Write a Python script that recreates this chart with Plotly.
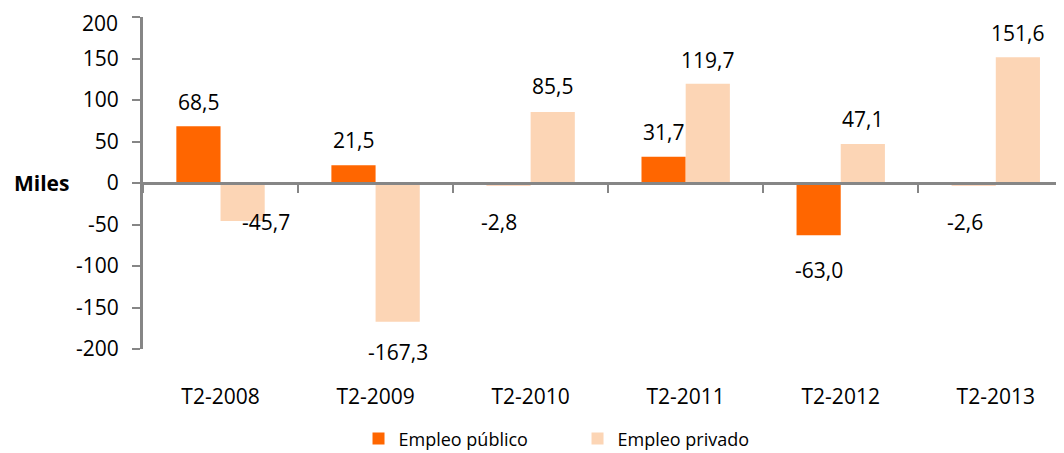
import plotly.graph_objects as go

categories = ["T2-2008", "T2-2009", "T2-2010", "T2-2011", "T2-2012", "T2-2013"]
publico = [68.5, 21.5, -2.8, 31.7, -63.0, -2.6]
privado = [-45.7, -167.3, 85.5, 119.7, 47.1, 151.6]
y_ticks = [200, 150, 100, 50, 0, -50, -100, -150, -200]

C_PUB = "#FF6600"
C_PRI = "#FCD5B5"
FONT = "Open Sans"
FS = 21

# label offsets (px) relative to bar end: (xshift, yshift)
pub_off = [(0, 24), (0, 25), (-10, -37), (0, 25), (0, -35), (-9, -37)]
pri_off = [(23, -1), (0, -30), (0, 26), (0, 24), (0, 25), (0, 24)]

def fmt(v):
    return f"{v:.1f}".replace(".", ",")

fig = go.Figure()
fig.add_trace(go.Bar(x=categories, y=publico, name="Empleo público",
                     marker=dict(color=C_PUB, line=dict(width=0))))
fig.add_trace(go.Bar(x=categories, y=privado, name="Empleo privado",
                     marker=dict(color=C_PRI, line=dict(width=0))))

annotations = []
bar_half = 22
for i, c in enumerate(categories):
    for vals, offs, sgn in ((publico, pub_off, -1), (privado, pri_off, 1)):
        v = vals[i]
        dx, dy = offs[i]
        annotations.append(dict(x=c, y=v, xref="x", yref="y", text=fmt(v),
                                showarrow=False, xshift=sgn * bar_half + dx, yshift=dy,
                                font=dict(family=FONT, size=FS, color="#000000"),
                                xanchor="center", yanchor="middle"))
annotations.append(dict(x=-0.1107, y=0, xref="paper", yref="y", text="<b>Miles</b>",
                        showarrow=False, xanchor="center", yanchor="middle",
                        font=dict(family=FONT, size=FS, color="#000000")))

# the top tick label is nudged down (as in the reference) so it stays inside the page
top_tick = max(y_ticks)
tick_text = ["" if t == top_tick else str(t) for t in y_ticks]
annotations.append(dict(x=0, y=top_tick, xref="paper", yref="y", text=str(top_tick),
                        showarrow=False, xanchor="right", yanchor="middle",
                        xshift=-23, yshift=-6,
                        font=dict(family=FONT, size=FS, color="#000000")))

# page has an 8px body margin, so the figure is sized to fit the 1064x453 window
fig.update_layout(
    width=1056, height=445,
    margin=dict(l=135, r=0, t=9, b=104, autoexpand=False),
    paper_bgcolor="white", plot_bgcolor="white",
    barmode="group", bargap=0.43, bargroupgap=0,
    font=dict(family=FONT, size=FS, color="#000000"),
    showlegend=True,
    legend=dict(orientation="h", x=0.234, y=-0.215, xanchor="left", yanchor="top",
                xref="paper", yref="paper", font=dict(family=FONT, size=18),
                entrywidth=174, entrywidthmode="pixels", traceorder="normal"),
    annotations=annotations,
    xaxis=dict(type="category", range=[-0.5, 5.44], anchor="free", position=0.5,
               automargin=False,
               showline=True, linecolor="#868686", linewidth=3,
               ticks="outside", tickson="boundaries", ticklen=8, tickwidth=2,
               tickcolor="#868686", showgrid=False, zeroline=False,
               ticklabelstandoff=194, tickfont=dict(family=FONT, size=FS)),
    yaxis=dict(range=[-200, 200], tickvals=y_ticks, ticktext=tick_text,
               automargin=False, ticklabeloverflow="allow",
               showline=True, linecolor="#868686", linewidth=3,
               ticks="outside", ticklen=8, tickwidth=2, tickcolor="#868686",
               showgrid=False, zeroline=False, ticklabelstandoff=9,
               tickfont=dict(family=FONT, size=FS)),
)

fig.write_html("out.html")
